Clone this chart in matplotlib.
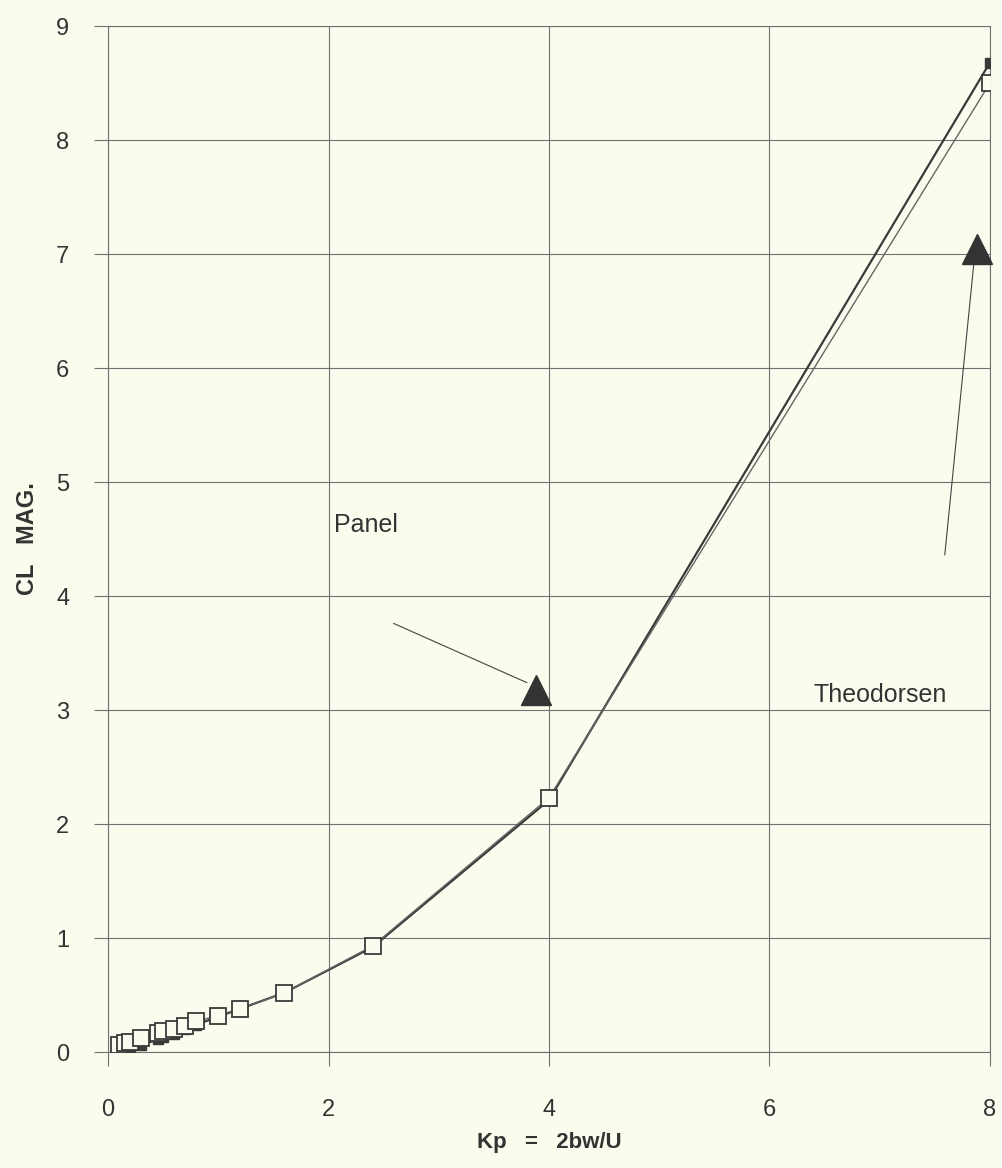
import matplotlib.pyplot as plt
import numpy as np

plt.rcParams['font.family'] = ['Liberation Sans', 'DejaVu Sans']

# Dati
kp = [0.1, 0.15, 0.2, 0.3, 0.45, 0.5, 0.6, 0.7, 0.8, 1.0, 1.2, 1.6, 2.4, 4.0, 8.0]
cl_panel = [0.06, 0.08, 0.09, 0.12, 0.17, 0.18, 0.20, 0.23, 0.27, 0.32, 0.38, 0.52, 0.93, 2.23, 8.50]
cl_theodorsen = [0.01, 0.02, 0.035, 0.06, 0.11, 0.13, 0.16, 0.20, 0.24, 0.31, 0.38, 0.52, 0.92, 2.21, 8.68]

bg = '#fcfcee'
ink = '#3a3a3a'
gridc = '#707070'

fig = plt.figure(figsize=(10.03, 11.68), dpi=100, facecolor=bg)
ax = fig.add_axes([0.1077, 0.0993, 0.8793, 0.8784])
ax.set_facecolor(bg)

# Theodorsen: quadratini pieni, Panel: quadratini vuoti
ax.plot(kp, cl_theodorsen, color=ink, lw=1.6, marker='s', ms=7,
        mfc=ink, mec=ink, zorder=3)
ax.plot(kp, cl_panel, color='#666666', lw=1.0, marker='s', ms=11,
        mfc=bg, mec=ink, mew=1.3, zorder=4)

ax.set_xlim(0, 8)
ax.set_ylim(0, 9)
ax.set_xticks(np.arange(0, 9, 2))
ax.set_yticks(np.arange(0, 10, 1))
ax.grid(True, color=gridc, lw=0.8)
for s in ax.spines.values():
    s.set_color(gridc)
    s.set_linewidth(0.8)
ax.tick_params(axis='both', direction='out', length=10, width=0.8,
               color=gridc, labelsize=17, labelcolor='#333333')
ax.tick_params(axis='x', pad=24)
ax.tick_params(axis='y', pad=18)

ax.set_xlabel('Kp   =   2bw/U', fontsize=16, fontweight='bold', color='#333333', labelpad=8)
ax.set_ylabel('CL   MAG.', fontsize=17, fontweight='bold', color='#333333', labelpad=12)

# Etichette con frecce (linea sottile + triangolo pieno)
line = dict(arrowstyle='-', color='#444444', lw=0.8, shrinkA=0, shrinkB=0)
ax.text(2.05, 4.62, 'Panel', fontsize=18, color='#333333', va='center', ha='left')
ax.annotate('', xy=(3.80, 3.24), xytext=(2.59, 3.76), arrowprops=line)
ax.plot(3.88, 3.18, marker='^', ms=21, color='#333333', zorder=5, clip_on=False)
ax.text(6.4, 3.13, 'Theodorsen', fontsize=18, color='#333333', va='center', ha='left')
ax.annotate('', xy=(7.86, 6.98), xytext=(7.59, 4.36), arrowprops=line)
ax.plot(7.88, 7.04, marker='^', ms=21, color='#333333', zorder=5, clip_on=False)

plt.savefig('out.png', dpi=100, facecolor=bg)
plt.close()
